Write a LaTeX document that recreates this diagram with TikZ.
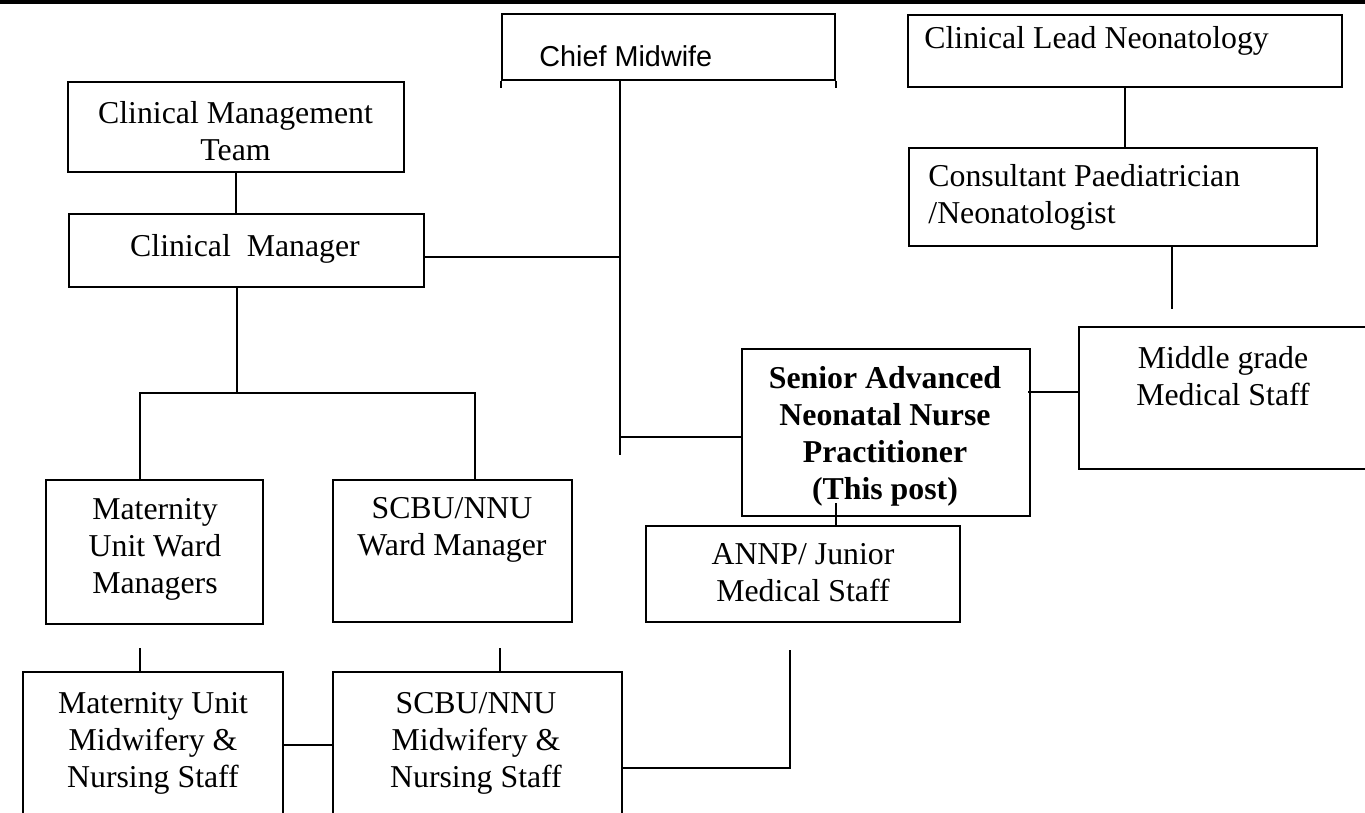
\documentclass[tikz,border=0pt]{standalone}
\usepackage{fontspec}
\setmainfont{Liberation Serif}
\newfontfamily\arialfont{Liberation Sans}
\usetikzlibrary{calc}

\tikzset{
  box/.style={draw, line width=1pt, inner sep=0pt},
  txt/.style={align=center, inner sep=0pt, font=\fontsize{15.9pt}{18.5pt}\selectfont},
  link/.style={line width=1pt}
}

\begin{document}
\begin{tikzpicture}[x=0.5pt, y=-0.5pt]
\useasboundingbox (0,0) rectangle (1365,813);
% rule across the top
\draw[line width=1.7pt] (0,2) -- (1365,2);

% boxes
\node[box, minimum width=166.5pt, minimum height=33pt] (chief) at (668.5,47) {};
\node[box, minimum width=217pt, minimum height=36pt] (lead) at (1125,51) {};
\node[box, minimum width=204pt, minimum height=49pt] (cons) at (1113,197) {};
\node[box, minimum width=168pt, minimum height=45pt] (cmt) at (236,127) {};
\node[box, minimum width=177.5pt, minimum height=36.5pt] (cm) at (246.5,250.5) {};
\node[box, minimum width=144pt, minimum height=83.5pt] (sannp) at (886,432.5) {};
\node[box, minimum width=160.5pt, minimum height=71pt] (mid) at (1239.5,398) {};
\node[box, minimum width=157pt, minimum height=48pt] (annp) at (803,574) {};
\node[box, minimum width=108.5pt, minimum height=72pt] (mwm) at (154.5,552) {};
\node[box, minimum width=119.5pt, minimum height=71pt] (wm) at (452.5,551) {};
\node[box, minimum width=130pt, minimum height=89pt] (mms) at (153,761) {};
\node[box, minimum width=144.5pt, minimum height=89pt] (sms) at (477.5,761) {};
\draw[link] (chief.south west) -- ++(0,7);
\draw[link] (chief.south east) -- ++(0,7);

% texts
\node[txt, anchor=west, font=\fontsize{14.4pt}{17pt}\arialfont] (chief-t) at (539,56) {Chief Midwife};
\node[txt, anchor=west] (lead-t) at (924,41) {Clinical Lead Neonatology};
\node[txt, anchor=west, align=left] (cons-t) at (928,197) {Consultant Paediatrician\\/Neonatologist};
\node[txt] (cmt-t) at (235.5,131) {Clinical Management\\Team};
\node[txt] (cm-t) at (245,249) {Clinical\ \ Manager};
\node[txt, font=\fontsize{15.9pt}{18.5pt}\selectfont\bfseries] (sannp-t) at (885,436) {Senior Advanced\\Neonatal Nurse\\Practitioner\\(This post)};
\node[txt] (mid-t) at (1223,376) {Middle grade\\Medical Staff};
\node[txt] (annp-t) at (803,573) {ANNP/ Junior\\Medical Staff};
\node[txt] (mwm-t) at (155,549) {Maternity\\Unit Ward\\Managers};
\node[txt] (wm-t) at (452,530) {SCBU/NNU\\Ward Manager};
\node[txt] (mms-t) at (153,743) {Maternity Unit\\Midwifery \&\\Nursing Staff};
\node[txt] (sms-t) at (476,743) {SCBU/NNU\\Midwifery \&\\Nursing Staff};

% connectors
\coordinate (spine) at (620,455);
\coordinate (cmR) at (620,257);
\coordinate (saW) at (620,437);
\coordinate (fork) at (237,393);
\coordinate (forkL) at (140,393);
\coordinate (forkR) at (475,393);
\coordinate (sa) at (836,503);
\coordinate (sm) at (1028,392);
\coordinate (consEnd) at (1172,309);
\coordinate (mmsTop) at (140,648);
\coordinate (smsTop) at (500,648);
\coordinate (mid-link) at (308,745);
\coordinate (smsR) at (790,768);
\coordinate (annpEnd) at (790,650);

\draw[link] (chief.south -| spine) -- (spine);
\draw[link] (cmR -| cm.east) -- (cmR);
\draw[link] (saW) -- (saW -| sannp.west);
\draw[link] (cmt.south) -- (cmt.south |- cm.north);
\draw[link] (cm.south -| fork) -- (fork);
\draw[link] (forkL |- mwm.north) -- (forkL) -- (forkR) -- (forkR |- wm.north);
\draw[link] (sa) -- (sa |- annp.north);
\draw[link] (sm) -- (sm -| mid.west);
\draw[link] (lead.south) -- (lead.south |- cons.north);
\draw[link] (consEnd |- cons.south) -- (consEnd);
\draw[link] (mmsTop) -- (mmsTop |- mms.north);
\draw[link] (smsTop) -- (smsTop |- sms.north);
\draw[link] (mid-link -| mms.east) -- (mid-link -| sms.west);
\draw[link] (smsR -| sms.east) -- (smsR) -- (annpEnd);
\end{tikzpicture}
\end{document}
